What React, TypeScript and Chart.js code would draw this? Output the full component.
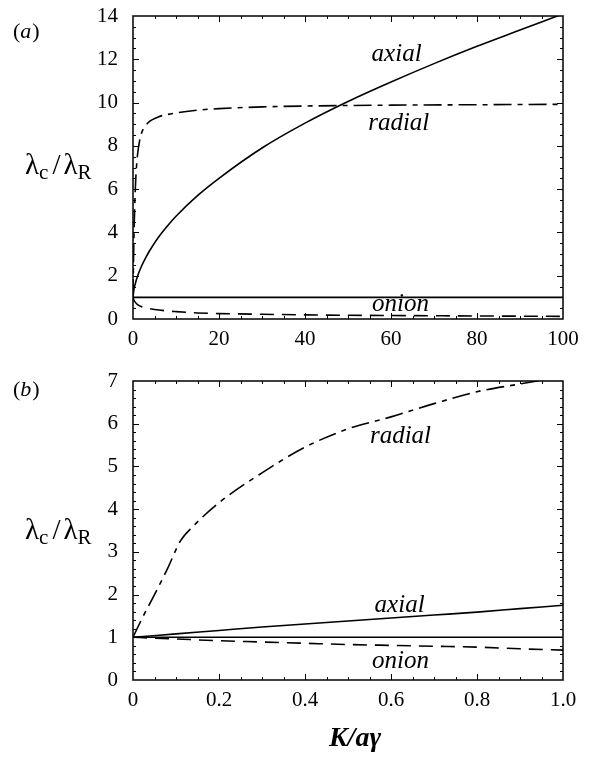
import React, { useEffect, useRef } from "react";
import { Chart, registerables } from "chart.js";

Chart.register(...registerables);

const FONT = '"Liberation Serif", "Times New Roman", serif';

// ---------- panel (a) ----------
const aAxialX = [0, 0.2, 0.5, 1, 2, 3, 4, 6, 8, 10, 15, 20, 30, 40, 50, 60, 70, 80, 90, 100];
const aAxialY = [1, 1.35, 1.6, 1.95, 2.45, 2.85, 3.2, 3.8, 4.3, 4.75, 5.7, 6.5, 7.9, 9.05, 10.05, 10.95, 11.8, 12.6, 13.35, 14.1];

const aRadialX = [0, 0.1, 0.2, 0.4, 0.6, 0.8, 1, 1.5, 2, 3, 4, 6, 8, 10, 15, 20, 30, 40, 60, 80, 100];
const aRadialY = [1, 2.5, 3.6, 5.2, 6.3, 7.0, 7.5, 8.2, 8.6, 8.95, 9.15, 9.35, 9.45, 9.52, 9.65, 9.72, 9.8, 9.84, 9.88, 9.9, 9.92];

const aOnionX = [0, 0.2, 0.5, 1, 2, 3, 5, 8, 10, 15, 20, 30, 40, 60, 80, 100];
const aOnionY = [1, 0.88, 0.78, 0.68, 0.57, 0.51, 0.44, 0.37, 0.34, 0.28, 0.25, 0.22, 0.19, 0.16, 0.14, 0.12];

const aRefX = [0, 100];
const aRefY = [1, 1];

const aXTicks = [0, 20, 40, 60, 80, 100];
const aXLabels = ["0", "20", "40", "60", "80", "100"];
const aYTicks = [0, 2, 4, 6, 8, 10, 12, 14];
const aYLabels = ["0", "2", "4", "6", "8", "10", "12", "14"];

// ---------- panel (b) ----------
const bAxialX = [0, 0.1, 0.2, 0.3, 0.4, 0.5, 0.6, 0.7, 0.8, 0.9, 1.0];
const bAxialY = [1, 1.08, 1.16, 1.24, 1.31, 1.38, 1.45, 1.52, 1.59, 1.67, 1.75];

const bRadialX = [0, 0.02, 0.05, 0.08, 0.11, 0.14, 0.2, 0.3, 0.4, 0.5, 0.6, 0.7, 0.8, 0.9, 1.0];
const bRadialY = [1, 1.42, 2.0, 2.6, 3.25, 3.6, 4.15, 4.85, 5.45, 5.88, 6.16, 6.47, 6.75, 6.93, 7.1];

const bOnionX = [0, 0.1, 0.2, 0.3, 0.4, 0.5, 0.6, 0.7, 0.8, 0.9, 1.0];
const bOnionY = [1, 0.96, 0.92, 0.89, 0.86, 0.83, 0.81, 0.79, 0.77, 0.73, 0.7];

const bRefX = [0, 1];
const bRefY = [1, 1];

const bXTicks = [0, 0.2, 0.4, 0.6, 0.8, 1.0];
const bXLabels = ["0", "0.2", "0.4", "0.6", "0.8", "1.0"];
const bYTicks = [0, 1, 2, 3, 4, 5, 6, 7];
const bYLabels = ["0", "1", "2", "3", "4", "5", "6", "7"];

// curve name labels, anchored in data coordinates (centre x, baseline y)
const aCurveLabels = [
  { text: "axial", x: 61.3, y: 11.9 },
  { text: "radial", x: 61.8, y: 8.72 },
  { text: "onion", x: 62.2, y: 0.37 },
];
const bCurveLabels = [
  { text: "radial", x: 0.622, y: 5.55 },
  { text: "axial", x: 0.62, y: 1.59 },
  { text: "onion", x: 0.622, y: 0.28 },
];

const ONION_DASH = [14, 8];
const RADIAL_DASH = [18, 6, 5, 6];

function pts(xs: number[], ys: number[]) {
  return xs.map((x, i) => ({ x, y: ys[i] }));
}

type PanelCfg = {
  letter: string;
  letterY: number;
  titleDy: number;
  xMin: number; xMax: number; xMinor: number; xMajor: number;
  yMin: number; yMax: number; yMinor: number; yMajor: number;
  curveLabels: { text: string; x: number; y: number }[];
  showXTitle: boolean;
};

function makePlugin(p: PanelCfg) {
  return {
    id: "frameTicks",
    afterDatasetsDraw(chart: any) {
      const ctx = chart.ctx as CanvasRenderingContext2D;
      const { left, right, top, bottom } = chart.chartArea;
      const xs = chart.scales.x;
      const ys = chart.scales.y;
      ctx.save();
      ctx.strokeStyle = "#000";
      ctx.lineWidth = 1.5;
      ctx.strokeRect(left, top, right - left, bottom - top);
      ctx.lineWidth = 1;
      // x ticks
      const nx = Math.round((p.xMax - p.xMin) / p.xMinor);
      const perMajorX = Math.round(p.xMajor / p.xMinor);
      for (let i = 1; i < nx; i++) {
        const v = p.xMin + i * p.xMinor;
        const px = Math.round(xs.getPixelForValue(v)) + 0.5;
        const len = i % perMajorX === 0 ? 6 : 3;
        ctx.beginPath();
        ctx.moveTo(px, bottom);
        ctx.lineTo(px, bottom - len);
        ctx.moveTo(px, top);
        ctx.lineTo(px, top + len);
        ctx.stroke();
      }
      const ny = Math.round((p.yMax - p.yMin) / p.yMinor);
      const perMajorY = Math.round(p.yMajor / p.yMinor);
      for (let i = 1; i < ny; i++) {
        const v = p.yMin + i * p.yMinor;
        const py = Math.round(ys.getPixelForValue(v)) + 0.5;
        const len = i % perMajorY === 0 ? 6 : 3;
        ctx.beginPath();
        ctx.moveTo(left, py);
        ctx.lineTo(left + len, py);
        ctx.moveTo(right, py);
        ctx.lineTo(right - len, py);
        ctx.stroke();
      }
      // curve labels
      ctx.fillStyle = "#000";
      ctx.font = `italic 25px ${FONT}`;
      ctx.textAlign = "center";
      ctx.textBaseline = "alphabetic";
      for (const l of p.curveLabels) {
        ctx.fillText(l.text, xs.getPixelForValue(l.x), ys.getPixelForValue(l.y));
      }
      // panel letter
      ctx.textAlign = "left";
      const lx = 13;
      const ly = p.letterY;
      ctx.font = `22px ${FONT}`;
      ctx.fillText("(", lx, ly);
      let w = ctx.measureText("(").width;
      ctx.font = `italic 22px ${FONT}`;
      ctx.fillText(p.letter, lx + w, ly);
      w += ctx.measureText(p.letter).width + 1;
      ctx.font = `22px ${FONT}`;
      ctx.fillText(")", lx + w, ly);
      // y title  λc/λR
      const cy = (top + bottom) / 2 + p.titleDy;
      let tx = 25;
      const big = `29px ${FONT}`;
      const sub = `21px ${FONT}`;
      const parts: [string, string, number][] = [
        ["λ", big, 0], ["c", sub, 5], ["/", big, 0], ["λ", big, 0], ["R", sub, 5],
      ];
      for (const [t, f, dy] of parts) {
        ctx.font = f;
        ctx.fillText(t, tx, cy + dy);
        tx += ctx.measureText(t).width;
        if (t === "/") tx += 3;
        if (t === "c") tx += 4;
      }
      if (p.showXTitle) {
        ctx.font = `italic bold 28px ${FONT}`;
        ctx.textAlign = "center";
        ctx.fillText("K/aγ", (left + right) / 2 + 7, bottom + 66);
      }
      ctx.restore();
    },
  };
}

function lineDs(data: { x: number; y: number }[], dash: number[]) {
  return {
    data,
    borderColor: "#000",
    borderWidth: 1.6,
    borderDash: dash,
    pointRadius: 0,
    fill: false,
    cubicInterpolationMode: "monotone" as const,
  };
}

function Panel(props: {
  width: number; height: number; areaTop: number; areaBottom: number;
  cfg: PanelCfg; datasets: any[];
  xTicks: number[]; xLabels: string[]; yTicks: number[]; yLabels: string[];
}) {
  const ref = useRef<HTMLCanvasElement>(null);
  useEffect(() => {
    if (!ref.current) return;
    const { cfg } = props;
    const chart = new Chart(ref.current, {
      type: "line",
      data: { datasets: props.datasets },
      options: {
        animation: false,
        responsive: false,
        devicePixelRatio: 1,
        layout: { padding: { top: props.areaTop, right: 30, left: 0, bottom: 0 } },
        plugins: { legend: { display: false }, tooltip: { enabled: false } },
        scales: {
          x: {
            type: "linear",
            min: cfg.xMin,
            max: cfg.xMax,
            grid: { display: false, drawTicks: false },
            border: { display: false },
            afterBuildTicks: (s: any) => {
              s.ticks = props.xTicks.map((v) => ({ value: v }));
            },
            afterFit: (s: any) => {
              s.height = props.height - props.areaBottom;
              s.paddingLeft = 0;
              s.paddingRight = 0;
            },
            ticks: {
              padding: 8,
              maxRotation: 0,
              autoSkip: false,
              color: "#000",
              font: { family: FONT, size: 21 },
              callback: (_v: any, i: number) => props.xLabels[i],
            },
          },
          y: {
            type: "linear",
            min: cfg.yMin,
            max: cfg.yMax,
            grid: { display: false, drawTicks: false },
            border: { display: false },
            afterBuildTicks: (s: any) => {
              s.ticks = props.yTicks.map((v) => ({ value: v }));
            },
            afterFit: (s: any) => {
              s.width = 133;
              s.paddingTop = 0;
              s.paddingBottom = 0;
            },
            ticks: {
              padding: 15,
              autoSkip: false,
              color: "#000",
              font: { family: FONT, size: 21 },
              callback: (_v: any, i: number) => props.yLabels[i],
            },
          },
        },
      },
      plugins: [makePlugin(cfg)],
    });
    return () => chart.destroy();
  }, []);
  return <canvas ref={ref} width={props.width} height={props.height} style={{ display: "block" }} />;
}

export default function App() {
  const aSets = [
    lineDs(pts(aRefX, aRefY), []),
    lineDs(pts(aAxialX, aAxialY), []),
    lineDs(pts(aRadialX, aRadialY), RADIAL_DASH),
    lineDs(pts(aOnionX, aOnionY), ONION_DASH),
  ];
  const bSets = [
    lineDs(pts(bRefX, bRefY), []),
    lineDs(pts(bAxialX, bAxialY), []),
    lineDs(pts(bRadialX, bRadialY), RADIAL_DASH),
    lineDs(pts(bOnionX, bOnionY), ONION_DASH),
  ];
  return (
    <div style={{ position: "absolute", left: 0, top: 0, width: 593, height: 759, background: "#fff" }}>
      <Panel
        width={593} height={370} areaTop={16} areaBottom={319}
        cfg={{ letter: "a", letterY: 38, titleDy: 6, xMin: 0, xMax: 100, xMinor: 5, xMajor: 20, yMin: 0, yMax: 14, yMinor: 0.5, yMajor: 2, curveLabels: aCurveLabels, showXTitle: false }}
        datasets={aSets}
        xTicks={aXTicks} xLabels={aXLabels} yTicks={aYTicks} yLabels={aYLabels}
      />
      <Panel
        width={593} height={389} areaTop={11} areaBottom={310}
        cfg={{ letter: "b", letterY: 26, titleDy: 8, xMin: 0, xMax: 1, xMinor: 0.05, xMajor: 0.2, yMin: 0, yMax: 7, yMinor: 0.2, yMajor: 1, curveLabels: bCurveLabels, showXTitle: true }}
        datasets={bSets}
        xTicks={bXTicks} xLabels={bXLabels} yTicks={bYTicks} yLabels={bYLabels}
      />
    </div>
  );
}
